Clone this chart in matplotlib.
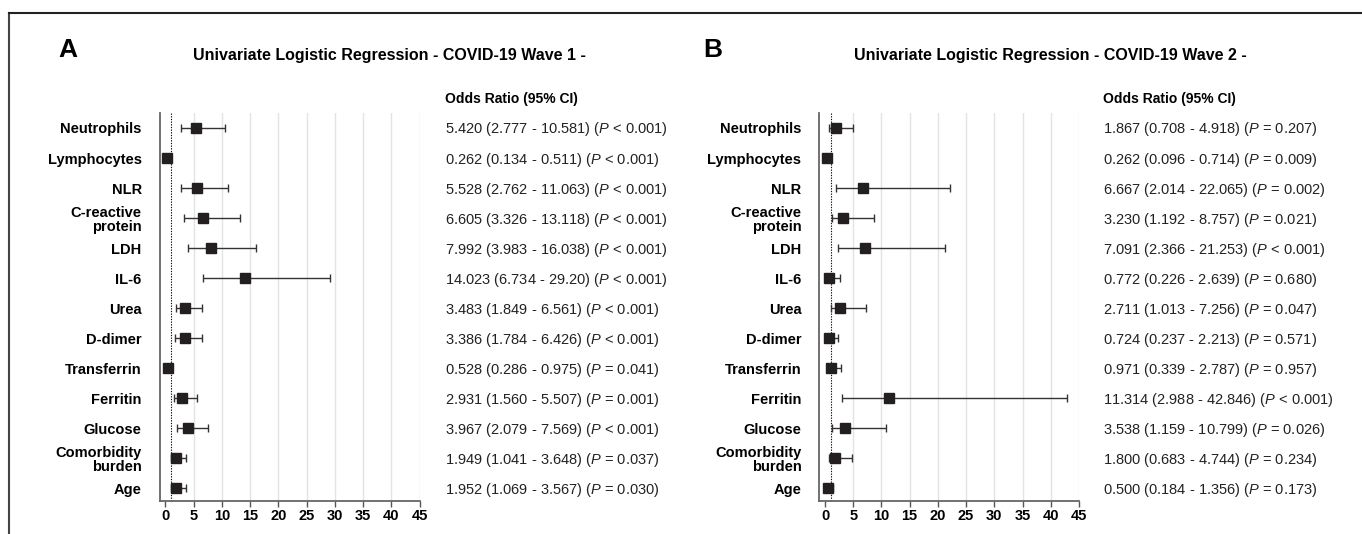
import matplotlib
matplotlib.use('Agg')
import matplotlib.pyplot as plt
from matplotlib.lines import Line2D
from matplotlib.transforms import blended_transform_factory
import numpy as np

plt.rcParams['font.family'] = ['Liberation Sans', 'DejaVu Sans']
plt.rcParams['mathtext.fontset'] = 'custom'
plt.rcParams['mathtext.rm'] = 'Liberation Sans'
plt.rcParams['mathtext.it'] = 'Liberation Sans:italic'

labels = ['Neutrophils', 'Lymphocytes', 'NLR', 'C-reactive\nprotein', 'LDH', 'IL-6',
          'Urea', 'D-dimer', 'Transferrin', 'Ferritin', 'Glucose',
          'Comorbidity\nburden', 'Age']

# wave 1
w1_or = ['5.420', '0.262', '5.528', '6.605', '7.992', '14.023', '3.483', '3.386',
         '0.528', '2.931', '3.967', '1.949', '1.952']
w1_lo = ['2.777', '0.134', '2.762', '3.326', '3.983', '6.734', '1.849', '1.784',
         '0.286', '1.560', '2.079', '1.041', '1.069']
w1_hi = ['10.581', '0.511', '11.063', '13.118', '16.038', '29.20', '6.561', '6.426',
         '0.975', '5.507', '7.569', '3.648', '3.567']
w1_p = ['< 0.001', '< 0.001', '< 0.001', '< 0.001', '< 0.001', '< 0.001', '< 0.001',
        '< 0.001', '= 0.041', '= 0.001', '< 0.001', '= 0.037', '= 0.030']

# wave 2
w2_or = ['1.867', '0.262', '6.667', '3.230', '7.091', '0.772', '2.711', '0.724',
         '0.971', '11.314', '3.538', '1.800', '0.500']
w2_lo = ['0.708', '0.096', '2.014', '1.192', '2.366', '0.226', '1.013', '0.237',
         '0.339', '2.988', '1.159', '0.683', '0.184']
w2_hi = ['4.918', '0.714', '22.065', '8.757', '21.253', '2.639', '7.256', '2.213',
         '2.787', '42.846', '10.799', '4.744', '1.356']
w2_p = ['= 0.207', '= 0.009', '= 0.002', '= 0.021', '< 0.001', '= 0.680', '= 0.047',
        '= 0.571', '= 0.957', '< 0.001', '= 0.026', '= 0.234', '= 0.173']

xticks = [0, 5, 10, 15, 20, 25, 30, 35, 40, 45]

fig = plt.figure(figsize=(13.62, 5.34), dpi=100)


def forest(ax, odds, lo, hi, pvals, text_x):
    y = np.arange(len(labels))
    o = np.array([float(v) for v in odds])
    l = np.array([float(v) for v in lo])
    h = np.array([float(v) for v in hi])

    for t in xticks[1:]:
        ax.axvline(t, color='#e3e3e3', lw=1, zorder=0)
    ax.axvline(1, color='#111111', ls=(0, (1.2, 1.2)), lw=0.8, zorder=1)

    ax.errorbar(o, y, xerr=[o - l, h - o], fmt='none', ecolor='#333333',
                elinewidth=1, capsize=3, capthick=1, zorder=2)
    ax.plot(o, y, 's', color='#231f20', markersize=6.5, zorder=3)

    ax.set_xlim(-1, 45)
    ax.set_ylim(12.43, -0.5)
    ax.set_xticks(xticks)
    ax.set_xticklabels([str(t) for t in xticks], fontsize=10.5, fontweight='bold')
    ax.set_yticks(y)
    ax.set_yticklabels(labels, fontsize=10.5, fontweight='bold', linespacing=1.05)
    ax.tick_params(axis='y', length=0, pad=13)
    ax.tick_params(axis='x', length=4, width=1, color='#555555', pad=2)

    for s in ['top', 'right']:
        ax.spines[s].set_visible(False)
    for s in ['left', 'bottom']:
        ax.spines[s].set_color('#666666')
        ax.spines[s].set_linewidth(1.3)

    tr = blended_transform_factory(fig.transFigure, ax.transData)
    for i in range(len(labels)):
        s = f"{odds[i]} ({lo[i]} - {hi[i]}) ($\\mathit{{P}}$ {pvals[i]})"
        ax.text(text_x, i + 0.05, s, transform=tr, ha='left', va='center',
                fontsize=10.5, color='#222222')
    fig.text(text_x, 0.8146, 'Odds Ratio (95% CI)', ha='left', va='center',
             fontsize=10, fontweight='bold')


ax1 = fig.add_axes([0.1173, 0.0618, 0.1908, 0.7266])
forest(ax1, w1_or, w1_lo, w1_hi, w1_p, 0.3267)
ax2 = fig.add_axes([0.6016, 0.0618, 0.1906, 0.7266])
forest(ax2, w2_or, w2_lo, w2_hi, w2_p, 0.8098)

fig.text(0.2856, 0.896, 'Univariate Logistic Regression - COVID-19 Wave 1 -',
         ha='center', va='center', fontsize=11.5, fontweight='bold')
fig.text(0.771, 0.896, 'Univariate Logistic Regression - COVID-19 Wave 2 -',
         ha='center', va='center', fontsize=11.5, fontweight='bold')
fig.text(0.0426, 0.907, 'A', ha='left', va='center', fontsize=19, fontweight='bold')
fig.text(0.516, 0.907, 'B', ha='left', va='center', fontsize=19, fontweight='bold')

# outer frame (only left and top edges visible)
fig.add_artist(Line2D([0.0066, 0.0066], [0, 0.9757], color='#444444', lw=1.5,
                      transform=fig.transFigure))
fig.add_artist(Line2D([0.0066, 1.0], [0.9757, 0.9757], color='#222222', lw=1.5,
                      transform=fig.transFigure))

fig.savefig('out.png', dpi=100)
